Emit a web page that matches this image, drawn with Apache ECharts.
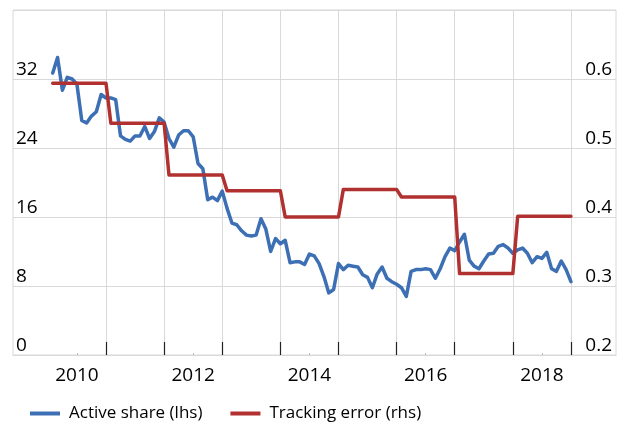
<!DOCTYPE html>
<html>
<head>
<meta charset="utf-8">
<script src="https://cdn.jsdelivr.net/npm/echarts@6/dist/echarts.min.js"></script>
<style>
html,body{margin:0;padding:0;background:#fff;}
#chart{width:624px;height:425px;}
</style>
</head>
<body>
<div id="chart"></div>
<script>
// Monthly observations, first month = Aug 2009
const startYear = 2009;
const startMonth = 8;

const activeShare = [
  32.7, 34.5, 30.7, 32.2, 32.0, 31.4, 27.2, 26.9, 27.7, 28.2, 30.2, 29.8,
  29.8, 29.6, 25.4, 25.0, 24.8, 25.4, 25.4, 26.5, 25.1, 25.9, 27.5, 27.0,
  25.1, 24.1, 25.5, 26.0, 26.0, 25.3, 22.2, 21.6, 18.0, 18.3, 17.9, 19.0,
  17.0, 15.3, 15.1, 14.4, 13.9, 13.8, 13.9, 15.8, 14.6, 12.0, 13.5, 12.9,
  13.3, 10.7, 10.8, 10.8, 10.5, 11.7, 11.5, 10.6, 9.1, 7.2, 7.6, 10.6,
  9.9, 10.4, 10.3, 10.2, 9.3, 9.0, 7.8, 9.4, 10.2, 8.9, 8.5, 8.2,
  7.8, 6.8, 9.7, 9.9, 9.9, 10.0, 9.9, 8.9, 10.0, 11.4, 12.4, 12.1,
  13.1, 14.0, 11.0, 10.3, 10.0, 10.9, 11.7, 11.8, 12.6, 12.8, 12.4, 11.8,
  12.2, 12.4, 11.8, 10.7, 11.4, 11.2, 11.9, 10.0, 9.7, 10.9, 9.9, 8.5
];

const trackingError = [
  0.594, 0.594, 0.594, 0.594, 0.594, 0.594, 0.594, 0.594, 0.594, 0.594, 0.594, 0.594,
  0.536, 0.536, 0.536, 0.536, 0.536, 0.536, 0.536, 0.536, 0.536, 0.536, 0.536, 0.536,
  0.461, 0.461, 0.461, 0.461, 0.461, 0.461, 0.461, 0.461, 0.461, 0.461, 0.461, 0.461,
  0.438, 0.438, 0.438, 0.438, 0.438, 0.438, 0.438, 0.438, 0.438, 0.438, 0.438, 0.438,
  0.400, 0.400, 0.400, 0.400, 0.400, 0.400, 0.400, 0.400, 0.400, 0.400, 0.400, 0.400,
  0.440, 0.440, 0.440, 0.440, 0.440, 0.440, 0.440, 0.440, 0.440, 0.440, 0.440, 0.440,
  0.429, 0.429, 0.429, 0.429, 0.429, 0.429, 0.429, 0.429, 0.429, 0.429, 0.429, 0.429,
  0.318, 0.318, 0.318, 0.318, 0.318, 0.318, 0.318, 0.318, 0.318, 0.318, 0.318, 0.318,
  0.401, 0.401, 0.401, 0.401, 0.401, 0.401, 0.401, 0.401, 0.401, 0.401, 0.401, 0.401
];

const yearLabels = [2010, 2012, 2014, 2016, 2018];
const yearTicks = [2010.5, 2011.5, 2012.5, 2013.5, 2014.5, 2015.5, 2016.5, 2017.5, 2018.5];
const leftTicks = [0, 8, 16, 24, 32];
const rightTicks = [0.2, 0.3, 0.4, 0.5, 0.6];

const seriesNames = ['Active share (lhs)', 'Tracking error (rhs)'];

// time position of each monthly observation
function monthTime(i) {
  return startYear + (startMonth - 1 + i) / 12;
}
const asData = activeShare.map((v, i) => [monthTime(i), v]);
const teData = trackingError.map((v, i) => [monthTime(i), v]);

const FONT = '"Open Sans", "Noto Sans", sans-serif';
const AXIS_FS = 19;
const chart = echarts.init(document.getElementById('chart'), null, {renderer: 'canvas'});
chart.setOption({
  animation: false,
  backgroundColor: '#ffffff',
  textStyle: {fontFamily: FONT},
  grid: {
    left: 13, right: 8, top: 10, bottom: 70,
    show: true, borderColor: '#d9d9d9', borderWidth: 1,
    containLabel: false
  },
  legend: {
    left: 30, top: 405, padding: 0,
    itemWidth: 30, itemHeight: 4, itemGap: 28,
    icon: 'rect',
    textStyle: {fontFamily: FONT, fontSize: 17, color: '#000', padding: [0, 0, 0, 4]},
    data: seriesNames
  },
  xAxis: [{
    type: 'value',
    min: 2008.9, max: 2019.275,
    axisLine: {show: true, lineStyle: {color: '#d9d9d9', width: 1}},
    axisTick: {show: true, inside: true, length: 13, customValues: yearTicks,
      lineStyle: {color: '#222', width: 1.2}},
    splitLine: {show: true, lineStyle: {color: '#d9d9d9', width: 1}},
    axisLabel: {
      customValues: yearLabels,
      formatter: v => String(Math.round(v)),
      fontFamily: FONT, fontSize: AXIS_FS, color: '#000', margin: 11
    }
  }, {
    type: 'value',
    min: 2008.9, max: 2019.275,
    position: 'bottom',
    axisLine: {show: false},
    axisTick: {show: true, inside: true, length: 2, customValues: yearLabels,
      lineStyle: {color: '#bbbbbb', width: 1}},
    splitLine: {show: false},
    axisLabel: {show: false}
  }],
  yAxis: [{
    type: 'value',
    min: 0, max: 40, interval: 8,
    position: 'left',
    axisLine: {show: false},
    axisTick: {show: false},
    splitLine: {show: true, lineStyle: {color: '#d9d9d9', width: 1}},
    axisLabel: {
      inside: true, margin: 3,
      verticalAlign: 'bottom',
      fontFamily: FONT, fontSize: AXIS_FS, color: '#000',
      formatter: v => leftTicks.indexOf(v) >= 0 ? String(v) : ''
    }
  }, {
    type: 'value',
    min: 0.2, max: 0.7, interval: 0.1,
    position: 'right',
    axisLine: {show: false},
    axisTick: {show: false},
    splitLine: {show: false},
    axisLabel: {
      inside: true, margin: 4,
      verticalAlign: 'bottom',
      fontFamily: FONT, fontSize: AXIS_FS, color: '#000',
      formatter: v => {
        const r = Math.round(v * 10) / 10;
        return rightTicks.indexOf(r) >= 0 ? r.toFixed(1) : '';
      }
    }
  }],
  series: [{
    name: seriesNames[0],
    type: 'line',
    xAxisIndex: 0, yAxisIndex: 0,
    data: asData,
    showSymbol: false, symbol: 'none',
    lineStyle: {color: '#3d6fb4', width: 3.5, join: 'round', cap: 'round'},
    itemStyle: {color: '#3d6fb4'},
    z: 3
  }, {
    name: seriesNames[1],
    type: 'line',
    xAxisIndex: 0, yAxisIndex: 1,
    data: teData,
    showSymbol: false, symbol: 'none',
    lineStyle: {color: '#b0312f', width: 3.5, join: 'round', cap: 'round'},
    itemStyle: {color: '#b0312f'},
    z: 4
  }]
});
</script>
</body>
</html>
